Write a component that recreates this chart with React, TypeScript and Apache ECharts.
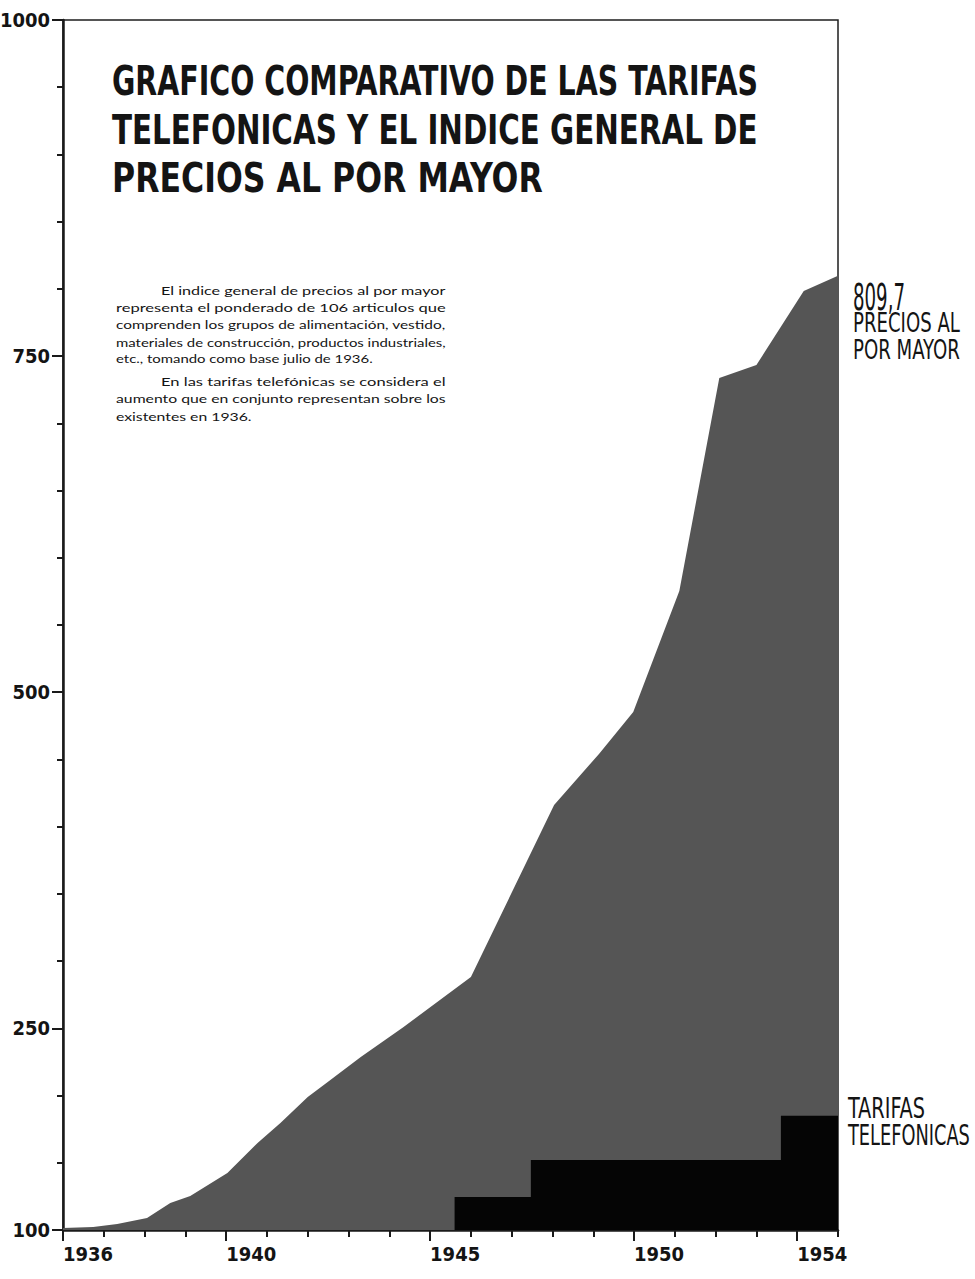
import React, { useEffect, useRef } from "react";
import * as echarts from "echarts";

// ---- data ----
const priceYears = [1936.0, 1936.74, 1937.33, 1938.06, 1938.63, 1939.12, 1940.03, 1940.77, 1941.33, 1942.0, 1942.49, 1943.3, 1944.35, 1946.0, 1948.04, 1949.14, 1949.98, 1951.11, 1952.09, 1953.0, 1954.16, 1955.0];
const priceValues = [101.5, 102.2, 104.5, 108.9, 120.1, 125.3, 142.4, 164.7, 179.6, 198.9, 210.1, 228.7, 251.0, 288.2, 416.1, 454.1, 485.3, 575.3, 733.7, 743.4, 798.4, 809.7];

const tariffYears = [1936, 1945.6, 1947.47, 1953.6, 1955];
const tariffValues = [100, 124.5, 152, 185, 185];

const yearTickLabels = [1936, 1940, 1945, 1950, 1954];
const valueTickLabels = [100, 250, 500, 750, 1000];

const titleLines = [
  "GRAFICO COMPARATIVO DE LAS TARIFAS",
  "TELEFONICAS Y EL INDICE GENERAL DE",
  "PRECIOS AL POR MAYOR",
];

const noteLines = [
  "El indice general de precios al por mayor",
  "representa el ponderado de 106 articulos que",
  "comprenden los grupos de alimentación, vestido,",
  "materiales de construcción, productos industriales,",
  "etc., tomando como base julio de 1936.",
  "En las tarifas telefónicas se considera el",
  "aumento que en conjunto representan sobre los",
  "existentes en 1936.",
];

const priceLabelLines = ["PRECIOS AL", "POR MAYOR"];
const tariffLabelLines = ["TARIFAS", "TELEFONICAS"];

// ---- styling helpers ----
const COND = '"DejaVu Sans Condensed", "Liberation Sans Narrow", "DejaVu Sans", sans-serif';
const NOTE_FONT = 'Lato, "Noto Sans", "DejaVu Sans", sans-serif';
const INK = "#141414";

let measureCtx: CanvasRenderingContext2D | null = null;
function measure(text: string, size: number, weight: string, family: string): number {
  if (!measureCtx) measureCtx = document.createElement("canvas").getContext("2d");
  if (!measureCtx) return text.length * size * 0.55;
  measureCtx.font = `${weight} ${size}px ${family}`;
  return measureCtx.measureText(text).width;
}

function fitText(
  text: string,
  x: number,
  y: number,
  size: number,
  weight: string,
  family: string,
  width: number | null,
  scaleOverride?: number
) {
  const w = measure(text, size, weight, family);
  const sx = scaleOverride !== undefined ? scaleOverride : width ? width / w : 1;
  return {
    type: "text",
    x,
    y,
    scaleX: sx,
    silent: true,
    style: {
      text,
      fontSize: size,
      fontWeight: weight,
      fontFamily: family,
      fill: INK,
      textAlign: "left",
      textVerticalAlign: "middle",
    },
  };
}

function buildGraphics() {
  const g: any[] = [];
  // Title
  const titleCenters = [82, 130, 178];
  const titleWidths = [646, 646, 431];
  titleLines.forEach((t, i) => {
    g.push(fitText(t, 112, titleCenters[i], 40, "bold", COND, titleWidths[i]));
  });

  // Note paragraph (justified)
  const noteY = [291, 308, 325, 343, 359, 382, 399, 417];
  const indentFirst = [true, false, false, false, false, true, false, false];
  const isLast = [false, false, false, false, true, false, false, true];
  const rightEdge = 446;
  let lastScale = 1.2;
  noteLines.forEach((t, i) => {
    const x0 = indentFirst[i] ? 161 : 116;
    if (isLast[i]) {
      g.push(fitText(t, x0, noteY[i], 10.5, "normal", NOTE_FONT, null, lastScale));
    } else {
      const w = measure(t, 10.5, "normal", NOTE_FONT);
      lastScale = (rightEdge - x0) / w;
      g.push(fitText(t, x0, noteY[i], 10.5, "normal", NOTE_FONT, null, lastScale));
    }
  });

  // End label for prices
  const lastPrice = priceValues[priceValues.length - 1];
  const lastPriceText = String(lastPrice).replace(".", ",");
  g.push(fitText(lastPriceText, 853, 297, 37, "normal", COND, 52));
  g.push(fitText(priceLabelLines[0], 853, 323, 27, "normal", COND, 107));
  g.push(fitText(priceLabelLines[1], 853, 350, 27, "normal", COND, 107));

  // Label for tariffs
  g.push(fitText(tariffLabelLines[0], 848, 1108, 29, "normal", COND, 77));
  g.push(fitText(tariffLabelLines[1], 848, 1135, 29, "normal", COND, 122));
  return g;
}

export default function App() {
  const ref = useRef<HTMLDivElement>(null);

  useEffect(() => {
    document.body.style.margin = "0";
    if (!ref.current) return;
    const chart = echarts.init(ref.current, undefined, { renderer: "svg" });

    const axisLineStyle = { color: "#1a1a1a", width: 2.5 };
    const tickStyle = { color: "#1a1a1a", width: 2 };
    const labelStyle = {
      fontSize: 20,
      fontWeight: "bold",
      fontFamily: COND,
      color: INK,
    };

    const priceData = priceYears.map((y, i) => [y, priceValues[i]]);
    const tariffData = tariffYears.map((y, i) => [y, tariffValues[i]]);

    const option: any = {
      animation: false,
      backgroundColor: "#ffffff",
      grid: {
        left: 63,
        right: 137,
        top: 20,
        bottom: 49,
        show: true,
        borderColor: "#1e1e1e",
        borderWidth: 1.5,
        backgroundColor: "transparent",
        containLabel: false,
        outerBoundsMode: "none",
      },
      xAxis: [
        {
          type: "value",
          min: 1936,
          max: 1955,
          interval: 1,
          position: "bottom",
          axisLine: { show: true, onZero: false, lineStyle: axisLineStyle },
          axisTick: { show: true, customValues: yearTickLabels, length: 11, lineStyle: tickStyle },
          axisLabel: {
            ...labelStyle,
            customValues: yearTickLabels,
            align: "left",
            margin: 14,
            formatter: (v: number) => String(v),
          },
          splitLine: { show: false },
        },
        {
          type: "value",
          min: 1936,
          max: 1955,
          interval: 1,
          position: "bottom",
          axisLine: { show: false },
          axisTick: { show: true, length: 7, lineStyle: tickStyle },
          axisLabel: { show: false },
          splitLine: { show: false },
        },
      ],
      yAxis: [
        {
          type: "value",
          min: 100,
          max: 1000,
          interval: 50,
          position: "left",
          axisLine: { show: true, onZero: false, lineStyle: axisLineStyle },
          axisTick: { show: true, customValues: valueTickLabels, length: 11, lineStyle: tickStyle },
          axisLabel: {
            ...labelStyle,
            customValues: valueTickLabels,
            margin: 13,
            formatter: (v: number) => String(v),
          },
          splitLine: { show: false },
        },
        {
          type: "value",
          min: 100,
          max: 1000,
          interval: 50,
          position: "left",
          offset: 0,
          axisLine: { show: false },
          axisTick: { show: true, length: 6, lineStyle: tickStyle },
          axisLabel: { show: false },
          splitLine: { show: false },
        },
      ],
      series: [
        {
          name: "Precios al por mayor",
          type: "line",
          xAxisIndex: 0,
          yAxisIndex: 0,
          data: priceData,
          symbol: "none",
          lineStyle: { width: 0 },
          areaStyle: { color: "#555555", opacity: 1, origin: "start" },
          z: 2,
        },
        {
          name: "Tarifas telefónicas",
          type: "line",
          xAxisIndex: 0,
          yAxisIndex: 0,
          data: tariffData,
          step: "end",
          symbol: "none",
          lineStyle: { width: 0 },
          areaStyle: { color: "#050505", opacity: 1, origin: "start" },
          z: 3,
        },
      ],
      graphic: buildGraphics(),
    };

    chart.setOption(option);
    return () => chart.dispose();
  }, []);

  return <div ref={ref} style={{ width: 975, height: 1279 }} />;
}
